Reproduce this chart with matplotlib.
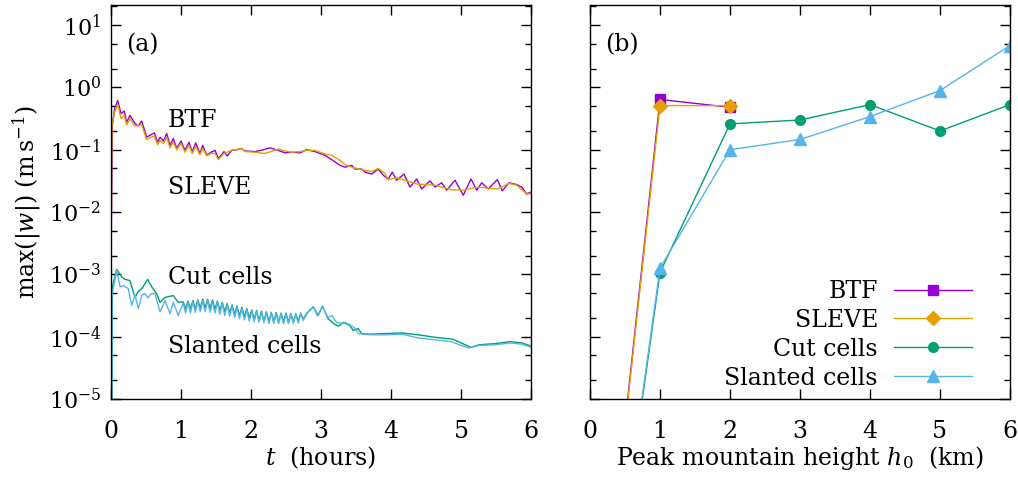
import matplotlib
matplotlib.use("Agg")
import matplotlib.pyplot as plt
import matplotlib.ticker as mticker
import numpy as np

plt.rcParams['font.family'] = ['DejaVu Serif']
plt.rcParams['mathtext.fontset'] = 'dejavuserif'
plt.rcParams['font.size'] = 17

# gnuplot default colours
c_btf = '#9400d3'
c_sleve = '#e69f00'
c_cut = '#009e73'
c_slant = '#56b4e9'

# panel (a): max|w| against time, values given as log10
btf_t = [0.0, 0.02, 0.05, 0.096, 0.143, 0.19, 0.224, 0.271, 0.343, 0.39,
         0.439, 0.51, 0.57, 0.619, 0.667, 0.70, 0.75, 0.796, 0.843, 0.89,
         0.939, 1.0, 1.057, 1.114, 1.161, 1.21, 1.271, 1.31, 1.367, 1.43,
         1.486, 1.533, 1.58, 1.614, 1.66, 1.724, 1.80, 1.867, 1.914, 2.057,
         2.15, 2.271, 2.39, 2.486, 2.58, 2.7, 2.796, 2.914, 3.057, 3.153,
         3.271, 3.343, 3.439, 3.486, 3.581, 3.629, 3.724, 3.819, 3.89, 3.961,
         4.019, 4.081, 4.186, 4.271, 4.367, 4.439, 4.557, 4.629, 4.724, 4.796,
         4.914, 5.033, 5.143, 5.224, 5.296, 5.39, 5.519, 5.59, 5.686, 5.796,
         5.867, 5.939, 6.0]
btf_log = [-2.75, -0.6, -0.35, -0.21, -0.42, -0.38, -0.56, -0.45, -0.58, -0.62,
           -0.54, -0.80, -0.76, -0.73, -0.88, -0.80, -0.86, -0.74, -0.93, -0.82,
           -0.98, -0.86, -1.01, -0.88, -1.04, -0.89, -1.06, -0.93, -1.09, -1.04,
           -1.01, -1.14, -1.08, -1.03, -1.10, -1.01, -1.0, -0.98, -1.02, -1.03,
           -1.01, -0.97, -1.01, -1.05, -1.04, -1.05, -1.0, -1.03, -1.09, -1.16,
           -1.25, -1.28, -1.25, -1.31, -1.31, -1.36, -1.39, -1.31, -1.41, -1.47,
           -1.36, -1.49, -1.39, -1.6, -1.47, -1.63, -1.5, -1.6, -1.53, -1.65,
           -1.49, -1.73, -1.47, -1.65, -1.53, -1.63, -1.48, -1.66, -1.53, -1.56,
           -1.6, -1.71, -1.68]

sleve_t = [0.0, 0.015, 0.05, 0.096, 0.143, 0.19, 0.224, 0.271, 0.343, 0.439,
           0.51, 0.57, 0.619, 0.667, 0.70, 0.75, 0.796, 0.843, 0.89, 0.939,
           1.0, 1.057, 1.114, 1.161, 1.21, 1.271, 1.31, 1.367, 1.43, 1.486,
           1.533, 1.614, 1.724, 1.867, 1.914, 2.057, 2.2, 2.39, 2.486, 2.58,
           2.7, 2.796, 2.914, 3.057, 3.153, 3.271, 3.343, 3.439, 3.581, 3.724,
           3.819, 3.914, 3.961, 4.081, 4.367, 4.629, 4.85, 5.033, 5.224, 5.519,
           5.686, 5.796, 5.939, 6.0]
sleve_log = [-2.75, -0.6, -0.4, -0.27, -0.50, -0.45, -0.60, -0.50, -0.62, -0.60,
             -0.84, -0.80, -0.78, -0.92, -0.85, -0.90, -0.80, -0.97, -0.88, -1.00,
             -0.90, -1.04, -0.93, -1.06, -0.95, -1.08, -0.98, -1.10, -1.06, -1.06,
             -1.16, -1.06, -1.01, -0.98, -1.03, -1.04, -1.06, -0.99, -1.02, -1.04,
             -1.03, -1.01, -1.01, -1.07, -1.09, -1.17, -1.24, -1.28, -1.32, -1.35,
             -1.30, -1.38, -1.48, -1.45, -1.55, -1.57, -1.64, -1.65, -1.60, -1.63,
             -1.54, -1.57, -1.71, -1.70]

cut_t = [0.0, 0.019, 0.081, 0.153, 0.2, 0.271, 0.343, 0.386, 0.447, 0.524,
         0.581, 0.653, 0.70, 0.771, 0.89, 0.961,
         1.03, 1.065, 1.10, 1.135, 1.17, 1.205, 1.24, 1.275, 1.31, 1.345,
         1.38, 1.415, 1.45, 1.485, 1.52, 1.555, 1.59, 1.625, 1.66, 1.695,
         1.73, 1.765, 1.80, 1.835, 1.87, 1.905, 1.94, 1.975, 2.01, 2.045,
         2.08, 2.115, 2.15, 2.185, 2.22, 2.255, 2.29, 2.325, 2.36, 2.395,
         2.43, 2.465, 2.50, 2.535, 2.57, 2.605, 2.64, 2.675, 2.71, 2.745,
         2.80, 2.84, 2.89, 2.96, 3.02, 3.10, 3.18, 3.25, 3.32, 3.41,
         3.46, 3.53, 3.58, 3.70, 3.914, 4.15, 4.39, 4.63, 4.88, 5.02,
         5.14, 5.26, 5.5, 5.7, 5.87, 6.0]
cut_log = [-8.0, -3.2, -2.92, -3.04, -3.08, -3.1, -3.37, -3.28, -3.22, -3.08,
           -3.2, -3.31, -3.45, -3.37, -3.34, -3.45,
           -3.44, -3.56, -3.43, -3.56, -3.42, -3.55, -3.41, -3.54, -3.40, -3.54,
           -3.40, -3.55, -3.41, -3.56, -3.43, -3.58, -3.45, -3.60, -3.47, -3.62,
           -3.49, -3.64, -3.51, -3.66, -3.53, -3.68, -3.55, -3.70, -3.57, -3.72,
           -3.58, -3.74, -3.59, -3.75, -3.60, -3.76, -3.61, -3.76, -3.61, -3.77,
           -3.62, -3.77, -3.62, -3.77, -3.63, -3.77, -3.63, -3.76, -3.62, -3.72,
           -3.62, -3.58, -3.52, -3.66, -3.51, -3.71, -3.79, -3.83, -3.77, -3.82,
           -3.90, -3.87, -3.95, -3.96, -3.95, -3.94, -3.97, -4.01, -4.04, -4.11,
           -4.17, -4.13, -4.11, -4.08, -4.1, -4.15]

slant_t = [0.0, 0.019, 0.081, 0.129, 0.176, 0.247, 0.295, 0.343, 0.39, 0.443,
           0.486, 0.529, 0.571, 0.629, 0.70, 0.771, 0.843, 0.89, 0.961,
           1.03, 1.065, 1.10, 1.135, 1.17, 1.205, 1.24, 1.275, 1.31, 1.345,
           1.38, 1.415, 1.45, 1.485, 1.52, 1.555, 1.59, 1.625, 1.66, 1.695,
           1.73, 1.765, 1.80, 1.835, 1.87, 1.905, 1.94, 1.975, 2.01, 2.045,
           2.08, 2.115, 2.15, 2.185, 2.22, 2.255, 2.29, 2.325, 2.36, 2.395,
           2.43, 2.465, 2.50, 2.535, 2.57, 2.605, 2.64, 2.675, 2.71, 2.745,
           2.80, 2.84, 2.89, 2.95, 3.02, 3.10, 3.16, 3.22, 3.31, 3.34,
           3.43, 3.49, 3.53, 3.70, 3.914, 4.15, 4.39, 4.63, 4.86, 5.0,
           5.12, 5.26, 5.5, 5.7, 5.87, 6.0]
slant_log = [-8.0, -3.3, -2.94, -3.2, -3.18, -3.23, -3.5, -3.33, -3.55, -3.33,
             -3.31, -3.38, -3.31, -3.31, -3.6, -3.42, -3.63, -3.45, -3.66,
             -3.46, -3.62, -3.45, -3.62, -3.44, -3.61, -3.43, -3.60, -3.42, -3.60,
             -3.42, -3.61, -3.43, -3.62, -3.45, -3.64, -3.47, -3.66, -3.49, -3.67,
             -3.51, -3.69, -3.53, -3.71, -3.55, -3.73, -3.57, -3.75, -3.59, -3.76,
             -3.60, -3.77, -3.61, -3.78, -3.62, -3.79, -3.62, -3.79, -3.63, -3.79,
             -3.63, -3.79, -3.64, -3.79, -3.64, -3.79, -3.64, -3.78, -3.63, -3.74,
             -3.63, -3.57, -3.52, -3.67, -3.52, -3.69, -3.66, -3.77, -3.79, -3.77,
             -3.82, -3.87, -3.95, -3.97, -3.97, -3.96, -4.02, -4.05, -4.08, -4.14,
             -4.18, -4.14, -4.13, -4.10, -4.12, -4.17]

# panel (b): peak max|w| against mountain height
h0 = [0, 1, 2, 3, 4, 5, 6]
btf_h = [2.5e-11, 0.64, 0.48]
sleve_h = [2.5e-11, 0.51, 0.51]
cut_h = [1e-11, 1.07e-3, 0.26, 0.30, 0.53, 0.20, 0.53]
slant_h = [1e-11, 1.25e-3, 0.10, 0.146, 0.34, 0.89, 4.7]

fig = plt.figure(figsize=(10.18, 4.80), dpi=100)
W, H = 1018.0, 480.0
ax1 = fig.add_axes([111 / W, (H - 399) / H, 420 / W, 394 / H])
ax2 = fig.add_axes([590 / W, (H - 399) / H, 420 / W, 394 / H])

lw = 1.0
ax1.plot(btf_t, 10 ** np.array(btf_log), color=c_btf, lw=lw)
ax1.plot(sleve_t, 10 ** np.array(sleve_log), color=c_sleve, lw=lw)
ax1.plot(cut_t, 10 ** np.array(cut_log), color=c_cut, lw=lw)
ax1.plot(slant_t, 10 ** np.array(slant_log), color=c_slant, lw=lw)

ax2.plot(h0[:3], btf_h, color=c_btf, lw=lw, marker='s', ms=7, label='BTF')
ax2.plot(h0[:3], sleve_h, color=c_sleve, lw=lw, marker='D', ms=7, label='SLEVE')
ax2.plot(h0, cut_h, color=c_cut, lw=lw, marker='o', ms=7, label='Cut cells')
ax2.plot(h0, slant_h, color=c_slant, lw=lw, marker='^', ms=9, label='Slanted cells')

for ax in (ax1, ax2):
    ax.set_yscale('log')
    ax.set_ylim(1e-5, 21)
    ax.set_xlim(0, 6)
    ax.set_xticks(range(7))
    ax.yaxis.set_major_locator(mticker.LogLocator(base=10, numticks=20))
    ax.yaxis.set_minor_locator(mticker.LogLocator(base=10, subs=(2.0, 5.0), numticks=20))
    ax.yaxis.set_minor_formatter(mticker.NullFormatter())
    ax.tick_params(which='both', direction='in', top=True, right=True, width=1.0)
    ax.tick_params(which='major', length=7)
    ax.tick_params(which='minor', length=4)
    ax.tick_params(axis='y', labelsize=16, pad=7)
    ax.tick_params(axis='x', labelsize=17, pad=15)
    for s in ax.spines.values():
        s.set_linewidth(1.0)

ax1.yaxis.set_major_formatter(mticker.LogFormatterMathtext())
ax2.yaxis.set_major_formatter(mticker.NullFormatter())

ax1.set_xlabel(r'$t$  (hours)', fontsize=17, labelpad=1)
ax2.set_xlabel(r'Peak mountain height $h_0$  (km)', fontsize=17, labelpad=1)
ax1.set_ylabel(r'max($|w|$) (m$\,$s$^{-1}$)', fontsize=17, labelpad=4)

ax1.text(0.035, 0.90, '(a)', transform=ax1.transAxes, fontsize=17, va='center')
ax2.text(0.035, 0.90, '(b)', transform=ax2.transAxes, fontsize=17, va='center')

ax1.text(0.81, 10 ** -0.53, 'BTF', fontsize=17, va='center')
ax1.text(0.81, 10 ** -1.6, 'SLEVE', fontsize=17, va='center')
ax1.text(0.81, 10 ** -3.05, 'Cut cells', fontsize=17, va='center')
ax1.text(0.81, 10 ** -4.15, 'Slanted cells', fontsize=17, va='center')

ax2.legend(loc='lower right', bbox_to_anchor=(0.933, 0.0), frameon=False,
           markerfirst=False, handlelength=3.3, fontsize=17,
           labelspacing=0.25, borderaxespad=0.0, handletextpad=0.7)

fig.savefig('out.png', dpi=100)
